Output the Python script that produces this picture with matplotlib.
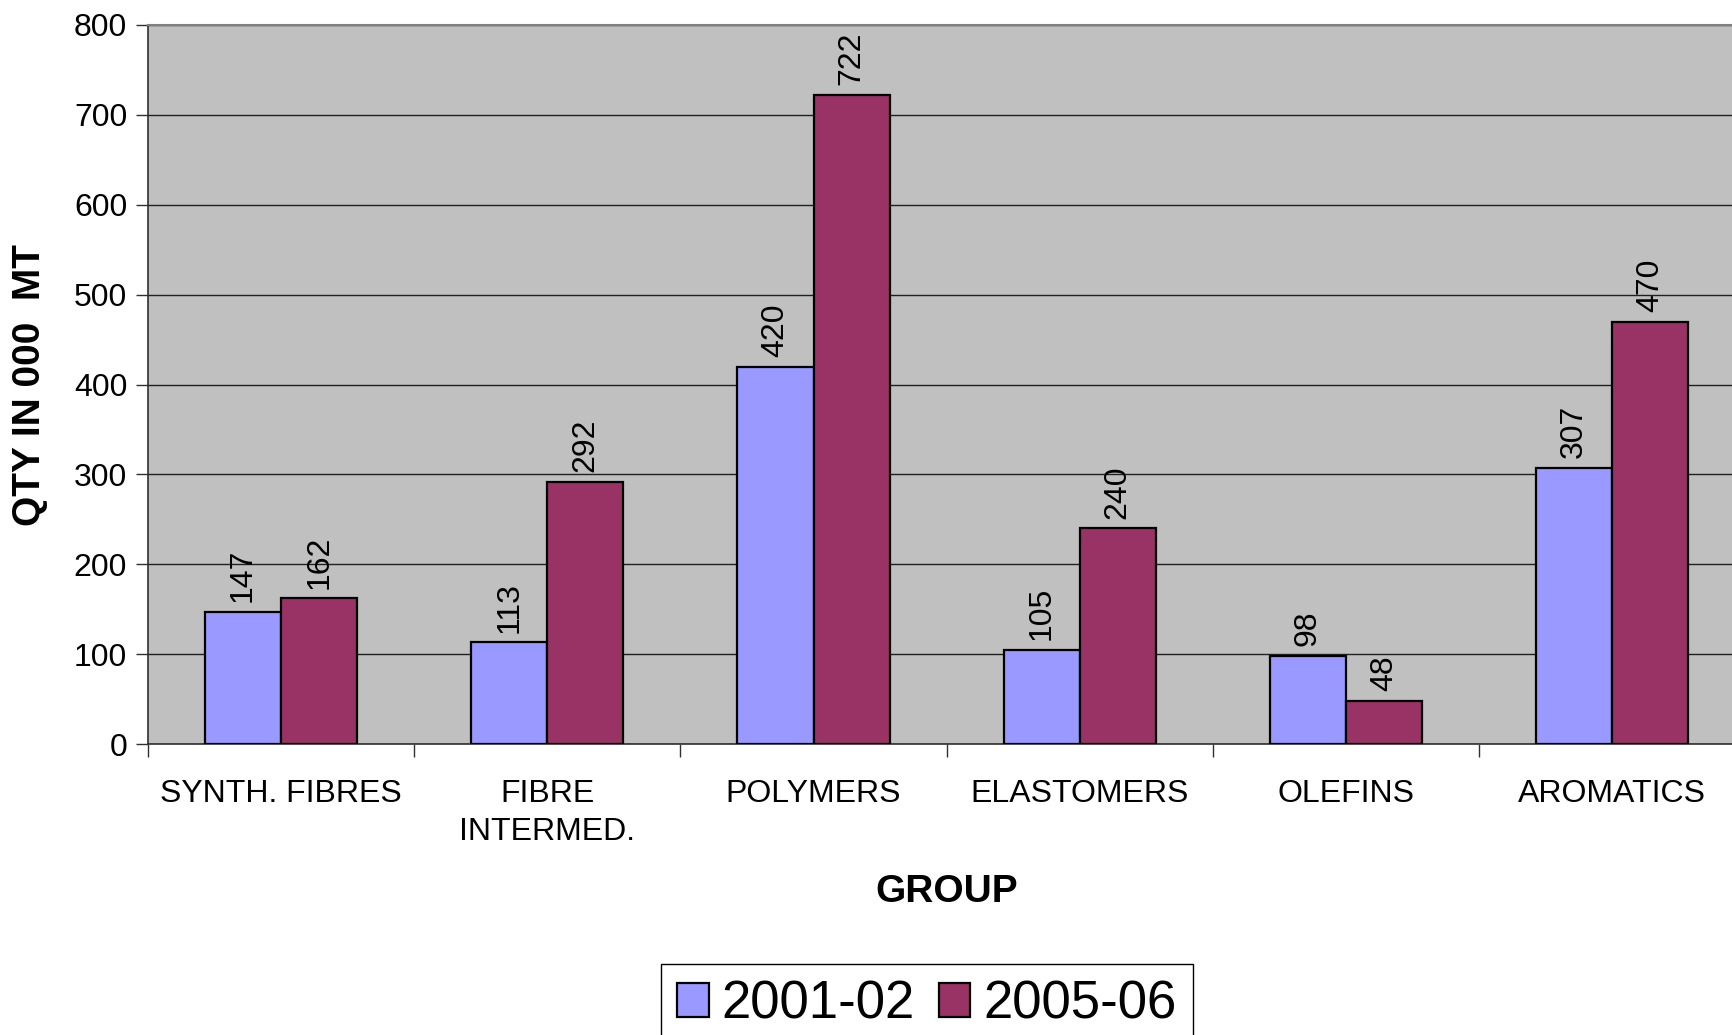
import matplotlib
matplotlib.use("Agg")
import matplotlib.pyplot as plt
from matplotlib.ticker import FixedLocator
import numpy as np

plt.rcParams['font.family'] = ['Liberation Sans', 'DejaVu Sans']

categories = ["SYNTH. FIBRES", "FIBRE\nINTERMED.", "POLYMERS", "ELASTOMERS", "OLEFINS", "AROMATICS"]
series_names = ["2001-02", "2005-06"]
values_2001 = [147, 113, 420, 105, 98, 307]
values_2005 = [162, 292, 722, 240, 48, 470]
colors = ["#9999FF", "#993366"]

W, H = 1732, 1035
fig = plt.figure(figsize=(W / 100, H / 100), dpi=100)
left = 148 / W
bottom = 1 - 744 / H
top = 1 - 25 / H
cat_w = 241 * (1732 / 1568) / W
ax = fig.add_axes([left, bottom, cat_w * 6, top - bottom])
ax.set_facecolor("#C0C0C0")

n = len(categories)
x = np.arange(n)
bw = 0.286
b1 = ax.bar(x - bw / 2, values_2001, bw, color=colors[0], edgecolor="black", linewidth=1.6, zorder=3, label=series_names[0])
b2 = ax.bar(x + bw / 2, values_2005, bw, color=colors[1], edgecolor="black", linewidth=1.6, zorder=3, label=series_names[1])

for bars in (b1, b2):
    for rect in bars:
        h = rect.get_height()
        ax.annotate(f"{int(h)}", (rect.get_x() + rect.get_width() / 2, h),
                    xytext=(0, 7), textcoords="offset points", rotation=90,
                    ha="center", va="bottom", fontsize=23)

ax.set_xlim(-0.5, n - 0.5)
ax.set_ylim(0, 800)
ax.set_yticks(np.arange(0, 801, 100))
ax.yaxis.grid(True, color="#202020", linewidth=1.0, zorder=0)
ax.set_axisbelow(True)

ax.set_xticks(x)
ax.set_xticklabels(categories, fontsize=23, linespacing=1.35)
ax.tick_params(axis="x", which="major", length=0, pad=25)
ax.xaxis.set_minor_locator(FixedLocator(np.arange(-0.5, n, 1.0)))
ax.tick_params(axis="x", which="minor", length=9, width=1, direction="out", color="#303030")
ax.tick_params(axis="y", length=9, width=1, direction="out", labelsize=23, pad=6, color="#303030")

for s in ("left", "bottom"):
    ax.spines[s].set_color("#303030")
    ax.spines[s].set_linewidth(1.2)
ax.spines["top"].set_color("#808080")
ax.spines["top"].set_linewidth(1.5)
ax.spines["right"].set_color("#808080")

fig.text(30 / W, 1 - 385 / H, "QTY IN 000  MT", rotation=90, fontsize=28, fontweight="bold",
         ha="center", va="center")
fig.text(947 / W, 1 - 892 / H, "GROUP", fontsize=28, fontweight="bold", ha="center", va="center")

leg = fig.legend(handles=[b1, b2], labels=series_names, loc="upper center",
                 bbox_to_anchor=(927 / W, 1 - 964 / H), ncol=2, fontsize=38,
                 frameon=True, fancybox=False, edgecolor="black", framealpha=1,
                 handlelength=0.6, handleheight=0.6, handletextpad=0.25,
                 columnspacing=0.45, borderpad=0.3, borderaxespad=0)
leg.get_frame().set_linewidth(1.0)

fig.savefig("out.png", dpi=100)
